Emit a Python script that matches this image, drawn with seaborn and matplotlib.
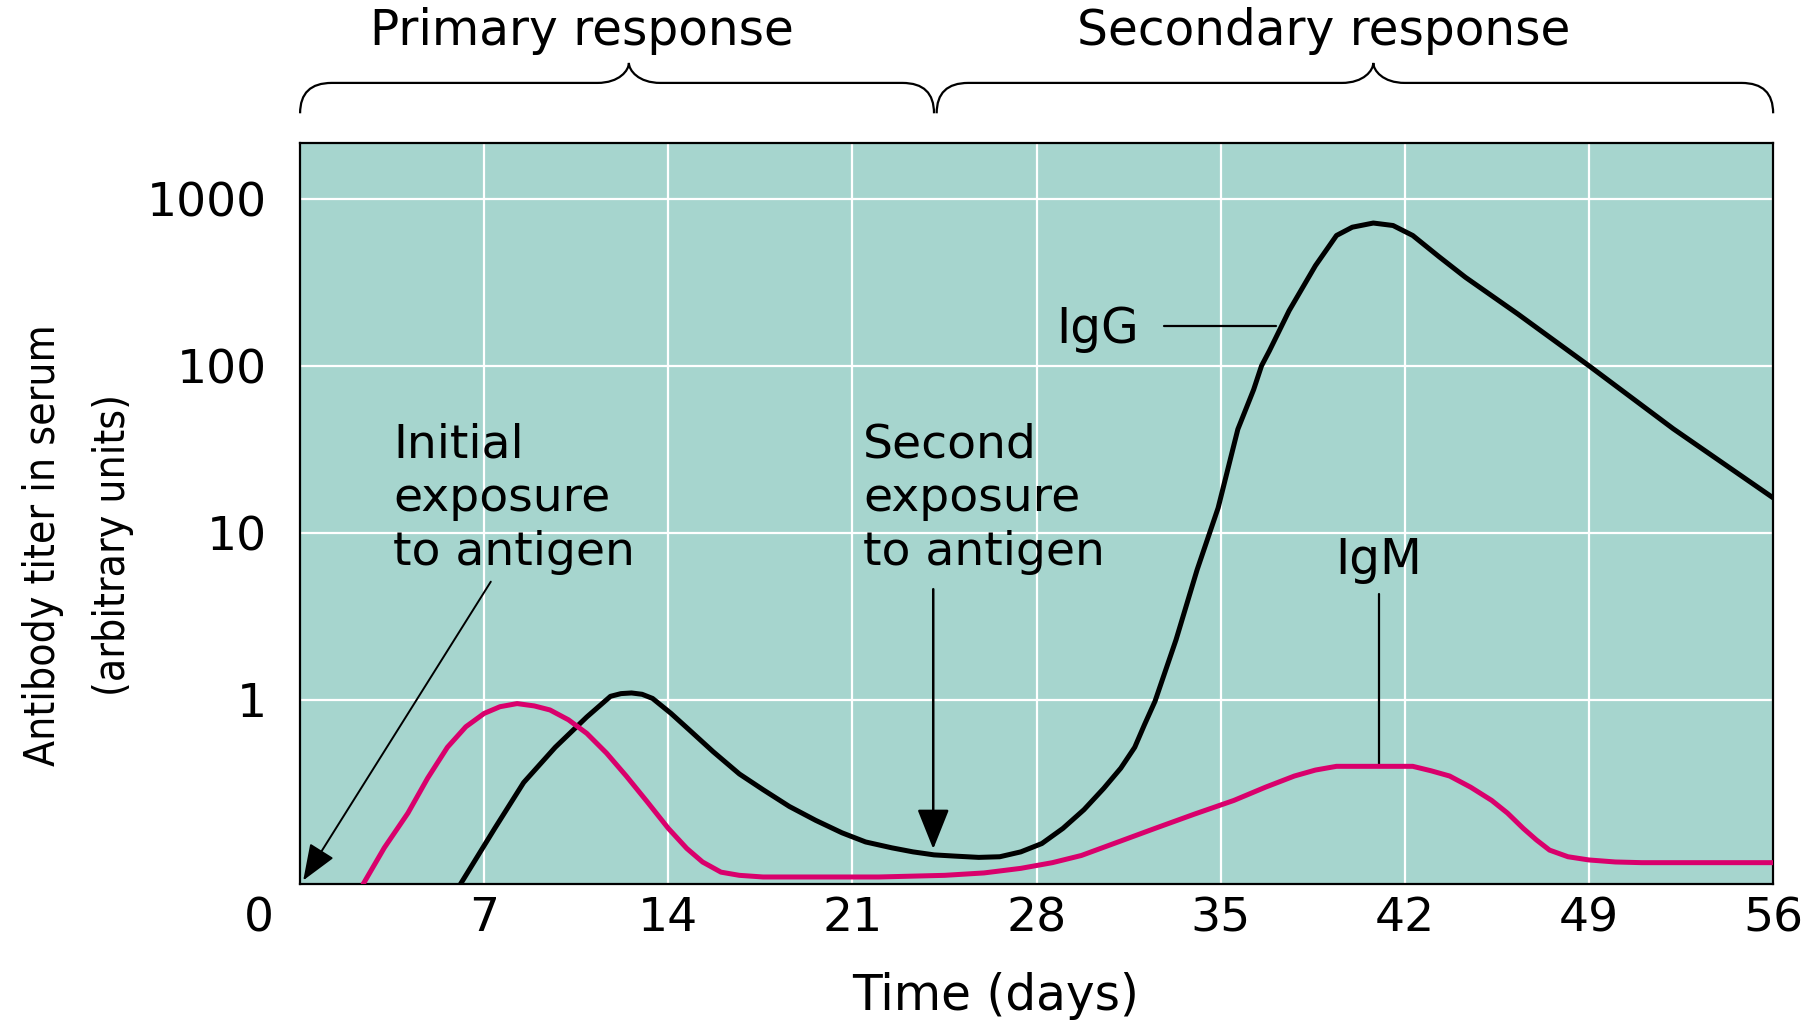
import pandas as pd
import seaborn as sns
from matplotlib import pyplot as plt
from matplotlib import font_manager as fm
from matplotlib.path import Path
from matplotlib.patches import PathPatch
from matplotlib import transforms

## values (days, antibody titer)
igg_days = [6.1, 7.4, 8.5, 9.7, 10.9, 11.8, 12.2, 12.6, 13.0, 13.4, 14.1, 14.8,
            15.7, 16.7, 17.6, 18.6, 19.6, 20.6, 21.5, 22.5, 23.3, 24.1, 24.9,
            25.8, 26.6, 27.4, 28.2, 29.0, 29.8, 30.55, 31.2, 31.73, 32.1, 32.5,
            33.3, 34.1, 34.9, 35.65, 36.25, 36.55, 36.85, 37.6, 38.6, 39.4,
            40.0, 40.8, 41.55, 42.3, 43.3, 44.3, 46.3, 49.0, 52.2, 56.0]
igg_titer = [0.079, 0.17, 0.32, 0.52, 0.79, 1.05, 1.09, 1.10, 1.08, 1.02, 0.83,
             0.66, 0.49, 0.36, 0.29, 0.23, 0.19, 0.16, 0.141, 0.13, 0.123, 0.118,
             0.116, 0.114, 0.115, 0.123, 0.138, 0.17, 0.22, 0.295, 0.39, 0.52,
             0.71, 0.98, 2.29, 6.0, 14.1, 41.7, 72, 100, 123, 214, 398, 603,
             676, 716, 692, 603, 450, 339, 204, 100, 42, 16.2]

igm_days = [2.4, 3.2, 4.1, 4.85, 5.6, 6.3, 7.0, 7.6, 8.25, 8.9, 9.5, 10.2, 10.9,
            11.65, 12.4, 13.2, 14.0, 14.7, 15.3, 16.0, 16.7, 17.6, 22.0, 24.5,
            26.0, 27.4, 28.6, 29.7, 31.1, 32.5, 34.0, 35.5, 36.7, 37.8, 38.6,
            39.4, 42.3, 43.0, 43.7, 44.5, 45.3, 45.9, 46.5, 47.0, 47.5, 48.2,
            49.0, 50.0, 51.0, 56.0]
igm_titer = [0.079, 0.13, 0.21, 0.34, 0.52, 0.69, 0.83, 0.91, 0.95, 0.92, 0.87,
             0.76, 0.63, 0.48, 0.35, 0.245, 0.17, 0.129, 0.107, 0.093, 0.089,
             0.087, 0.087, 0.089, 0.092, 0.098, 0.106, 0.117, 0.141, 0.17, 0.207,
             0.25, 0.30, 0.35, 0.38, 0.40, 0.40, 0.376, 0.35, 0.30, 0.25, 0.21,
             0.17, 0.145, 0.126, 0.115, 0.110, 0.107, 0.106, 0.106]

x_ticks = [7, 14, 21, 28, 35, 42, 49, 56]
y_ticks = [1, 10, 100, 1000]
y_ticklabels = ['1', '10', '100', '1000']

## braces: (start day, tip day, end day, label, label day)
braces = [(0.0, 12.5, 24.1, 'Primary response', 10.7),
          (24.2, 40.8, 56.0, 'Secondary response', 38.9)]

bg = '#a6d5ce'
pink = '#d9006c'

sns.set_style('white')
plt.rcParams['font.family'] = ['DejaVu Sans']
plt.rcParams['text.color'] = 'black'
plt.rcParams['xtick.color'] = 'black'
plt.rcParams['ytick.color'] = 'black'
plt.rcParams['axes.labelcolor'] = 'black'

## the y title is set in a condensed face in the original; use one if present
cond_file, cond_size, cond_ls = None, 27, 2.1
for f in fm.fontManager.ttflist:
    if f.name == 'Liberation Sans Narrow' and f.weight in (400, 'normal') and f.style == 'normal':
        cond_file, cond_size, cond_ls = f.fname, 38, 1.5
        break
if cond_file is None:
    for f in fm.fontManager.ttflist:
        if 'dejavusanscondensed.ttf' in f.fname.lower():
            cond_file, cond_size, cond_ls = f.fname, 30.5, 1.85
            break
if cond_file:
    ylab_font = fm.FontProperties(fname=cond_file, size=cond_size)
else:
    ylab_font = fm.FontProperties(family='DejaVu Sans', size=cond_size)

fig = plt.figure(figsize=(18.11, 10.21), dpi=100)
ax = fig.add_axes([0.1657, 0.1342, 0.8134, 0.7258])
ax.set_facecolor(bg)

df = pd.concat([
    pd.DataFrame({'day': igg_days, 'titer': igg_titer, 'ab': 'IgG'}),
    pd.DataFrame({'day': igm_days, 'titer': igm_titer, 'ab': 'IgM'}),
])

sns.lineplot(ax=ax, data=df, x='day', y='titer', hue='ab',
             palette={'IgG': 'black', 'IgM': pink}, linewidth=3.6,
             legend=False, zorder=3, sort=False)

ax.set_yscale('log')
ax.set_xlim(0, 56)
ax.set_ylim(0.079, 2160)
ax.set_xticks(x_ticks)
ax.set_yticks(y_ticks)
ax.set_yticklabels(y_ticklabels)
ax.minorticks_off()
ax.tick_params(axis='both', length=0, labelsize=34, colors='black')
ax.tick_params(axis='x', pad=9)
ax.tick_params(axis='y', pad=24)
ax.grid(True, color='white', linewidth=1.6)
ax.set_axisbelow(True)
for s in ax.spines.values():
    s.set_color('black')
    s.set_linewidth(1.6)
ax.set_xlabel('')
ax.set_ylabel('')

## "0" at the corner
ax.annotate('0', xy=(0, 0), xycoords=('data', 'axes fraction'),
            xytext=(-41, -13), textcoords='offset pixels',
            ha='center', va='top', fontsize=34)

## curve labels
ax.text(31.9, 167, 'IgG', ha='right', va='center', fontsize=35)
ax.plot([32.85, 37.1], [172, 172], color='black', lw=1.6, zorder=2)
ax.text(41.0, 6.9, 'IgM', ha='center', va='center', fontsize=35)
ax.plot([41.0, 41.0], [4.3, 0.40], color='black', lw=1.6, zorder=2)

## exposure annotations
ax.text(3.55, 16, 'Initial\nexposure\nto antigen', ha='left', va='center',
        fontsize=34, linespacing=1.25)
ax.text(21.4, 16, 'Second\nexposure\nto antigen', ha='left', va='center',
        fontsize=34, linespacing=1.25)
ax.annotate('', xy=(0.12, 0.083), xytext=(7.25, 5.1),
            arrowprops=dict(arrowstyle='-|>,head_length=0.9,head_width=0.35',
                            mutation_scale=25, lw=1.4, color='black',
                            shrinkA=0, shrinkB=0), zorder=4)
ax.annotate('', xy=(24.07, 0.128), xytext=(24.07, 4.6),
            arrowprops=dict(arrowstyle='-|>,head_length=1.0,head_width=0.4',
                            mutation_scale=25, lw=1.8, color='black',
                            shrinkA=0, shrinkB=0), zorder=4)

## braces above the plot
bt = transforms.blended_transform_factory(ax.transData, ax.transAxes)
y_end, y_h, y_tip = 1.040, 1.081, 1.108
r = 1.2
for x0, xt, x1, label, lx in braces:
    verts = [(x0, y_end), (x0, y_h), (x0 + r, y_h),
             (xt - r, y_h),
             (xt - r * 0.3, y_h), (xt, y_tip - 0.01), (xt, y_tip),
             (xt, y_tip - 0.01), (xt + r * 0.3, y_h), (xt + r, y_h),
             (x1 - r, y_h),
             (x1, y_h), (x1, y_end)]
    codes = [Path.MOVETO, Path.CURVE3, Path.CURVE3,
             Path.LINETO,
             Path.CURVE4, Path.CURVE4, Path.CURVE4,
             Path.CURVE4, Path.CURVE4, Path.CURVE4,
             Path.LINETO,
             Path.CURVE3, Path.CURVE3]
    ax.add_patch(PathPatch(Path(verts, codes), transform=bt, fill=False,
                           lw=1.6, color='black', clip_on=False))
    ax.text(lx, 1.151, label, transform=bt, ha='center', va='center',
            fontsize=35)

## axis titles
fig.text(0.55, 0.0245, 'Time (days)', ha='center', va='center', fontsize=35)
fig.text(0.043, 0.466, 'Antibody titer in serum\n(arbitrary units)',
         rotation=90, ha='center', va='center', multialignment='center',
         fontproperties=ylab_font, linespacing=cond_ls)

plt.savefig('out.png', dpi=100)
